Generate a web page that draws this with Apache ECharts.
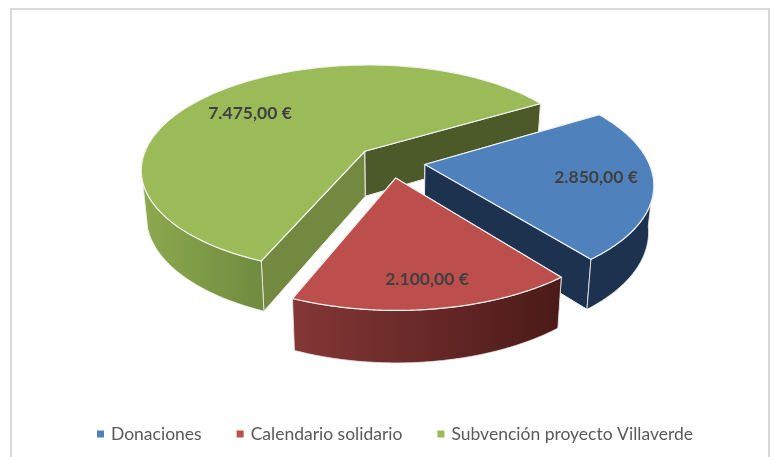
<!DOCTYPE html>
<html><head><meta charset="utf-8">
<style>html,body{margin:0;padding:0;background:#fff}#c{width:774px;height:457px}</style>
<script src="https://cdn.jsdelivr.net/npm/echarts@6/dist/echarts.min.js"></script>
</head><body><div id="c"></div>
<script>
var categories = ['Donaciones', 'Calendario solidario', 'Subvención proyecto Villaverde'];
var values = [2850, 2100, 7475];
var drawOrder = [2, 0, 1];

var topColors = ['#4F81BD', '#BC4E4B', '#9BBB59'];
var wallStart = ['#1D324E', '#6E2E2C', '#72893F'];
var wallEnd = ['#1D324E', '#6E2E2C', '#4C5A2A'];
var outerStops = [['#1D324E', '#1D324E'], ['#843736', '#4A1A18'], ['#8CA94E', '#6F8B3E']];
var labelPos = [[596, 177], [427, 279], [250, 113]];

var X0 = 390.7, Y0 = 161.6, K = 223.5, M = 104, P = 0.168, EXPL = 0.155;
var START = -31, QX = 0.98, QY = 1.048, H = 45.4;
var total = values.reduce(function (a, b) { return a + b; }, 0);

function angles(i) {
  var a = START;
  for (var j = 0; j < i; j++) a += values[j] / total * 360;
  return [a, a + values[i] / total * 360];
}
function topPt(u, v) {
  var w = 1 - P * v;
  return [X0 + K * u / w, Y0 + M * v / w];
}
function botPt(p) {
  return [X0 + (p[0] - X0) * QX, Y0 + (p[1] - Y0) * QY + H];
}
function euro(v) {
  var s = v.toFixed(2).split('.');
  return s[0].replace(/\B(?=(\d{3})+$)/g, '.') + ',' + s[1] + ' €';
}
function render(i) {
  return function (params, api) {
    var val = api.value(0);
    var span = val / total * 360, an = angles(i), a0 = an[0], a1 = a0 + span;
    var mid = (a0 + a1) / 2 * Math.PI / 180;
    var eu = EXPL * Math.cos(mid), ev = EXPL * Math.sin(mid);
    var apex = topPt(eu, ev), rim = [], front = [];
    for (var d = 0; d <= 120; d++) {
      var t = (a0 + span * d / 120) * Math.PI / 180;
      var p = topPt(eu + Math.cos(t), ev + Math.sin(t));
      rim.push(p);
      if (Math.sin(t) > P - ev) front.push(p);
    }
    var first = rim[0], last = rim[rim.length - 1];
    var edge = { stroke: '#EDEDED', lineWidth: 1 };
    function wall(a, b, color) {
      return { type: 'polygon', shape: { points: [a, b, botPt(b), botPt(a)] },
        style: Object.assign({ fill: color }, edge) };
    }
    var outer = front.concat(front.slice().reverse().map(botPt));
    return {
      type: 'group',
      children: [
        wall(apex, first, wallStart[i]),
        wall(apex, last, wallEnd[i]),
        { type: 'polygon', shape: { points: outer },
          style: { fill: { type: 'linear', x: 0, y: 0, x2: 1, y2: 0, colorStops: [
            { offset: 0, color: outerStops[i][0] }, { offset: 1, color: outerStops[i][1] }] },
            stroke: '#EDEDED', lineWidth: 0.8 } },
        { type: 'polygon', shape: { points: [apex].concat(rim) },
          style: { fill: topColors[i], stroke: '#F2F2F2', lineWidth: 1.2 } },
        { type: 'text', style: { x: labelPos[i][0], y: labelPos[i][1], text: euro(val),
            font: 'bold 17.5px Lato', fill: '#404040', align: 'center', verticalAlign: 'middle' } }
      ]
    };
  };
}
var series = drawOrder.map(function (i) {
  return { type: 'custom', name: categories[i], coordinateSystem: 'none', silent: true,
    animation: false, itemStyle: { color: topColors[i] }, data: [[values[i]]], renderItem: render(i) };
});
var chart = echarts.init(document.getElementById('c'), null, { renderer: 'canvas' });
chart.setOption({
  animation: false,
  backgroundColor: '#fff',
  graphic: [{ type: 'rect', z: -1, shape: { x: 11, y: 9, width: 758, height: 470 },
    style: { fill: '#fff', stroke: '#D9D9D9', lineWidth: 2 } }],
  legend: { data: categories, left: 92, top: 420, itemWidth: 7, itemHeight: 7, itemGap: 35, icon: 'rect',
    textStyle: { fontFamily: 'Lato', fontSize: 17.5, color: '#595959', padding: [0, 0, 0, 2] } },
  series: series
});
</script></body></html>
